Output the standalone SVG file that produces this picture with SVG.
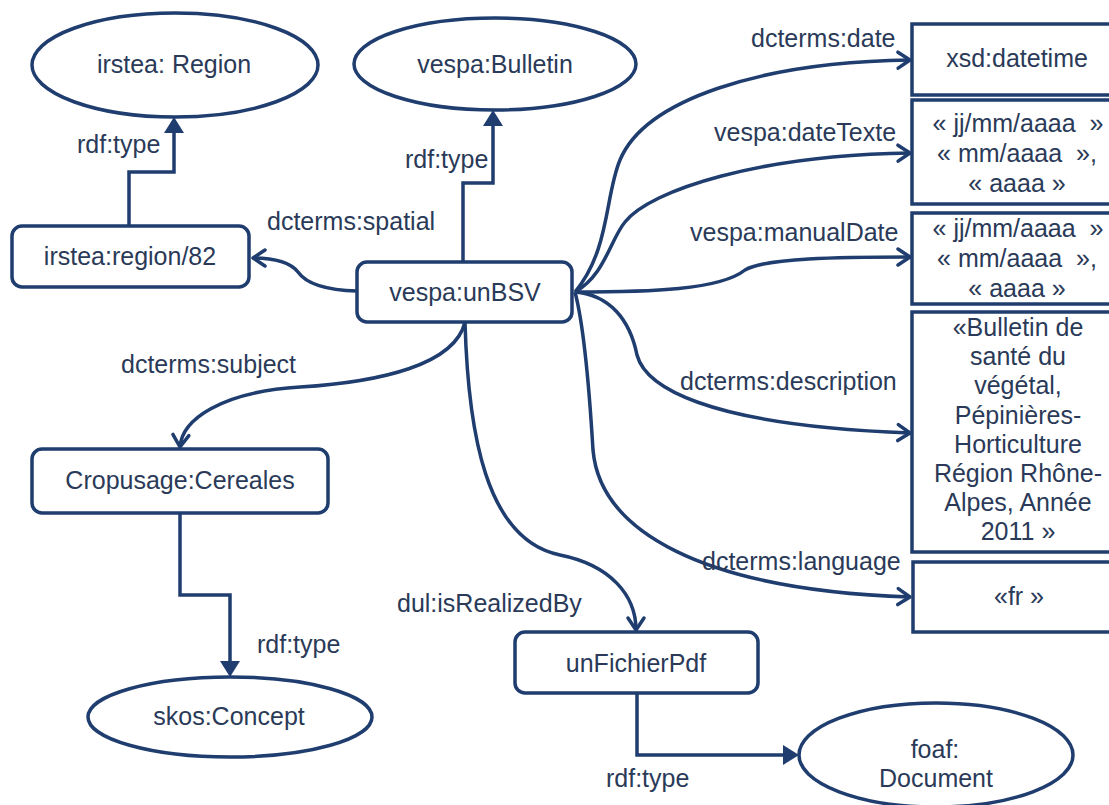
<svg xmlns="http://www.w3.org/2000/svg" width="1109" height="805" viewBox="0 0 1109 805">
<style>
  .node { fill: #ffffff; stroke: #1f3d6e; stroke-width: 3.5; }
  .edge { fill: none; stroke: #1f3d6e; stroke-width: 3.5; }
  text { font-family: "Liberation Sans", Arial, sans-serif; font-size: 25px; fill: #2a3a58; }
  .c { text-anchor: middle; }
  .pre { white-space: pre; }
</style>
<defs>
  <marker id="tri" markerUnits="userSpaceOnUse" markerWidth="20" markerHeight="22" refX="0" refY="0" orient="auto" overflow="visible">
    <path d="M-8,-10 L8,0 L-8,10 z" fill="#1f3d6e"/>
  </marker>
  <marker id="open" markerUnits="userSpaceOnUse" markerWidth="20" markerHeight="20" refX="0" refY="0" orient="auto" overflow="visible">
    <path d="M-12,-8 L0,0 L-12,8" fill="none" stroke="#1f3d6e" stroke-width="3.5" stroke-linecap="round" stroke-linejoin="round"/>
  </marker>
</defs>
<rect width="1109" height="805" fill="#ffffff"/>

<g id="connectors">
  <path class="edge" d="M129,226 V172 H174 V125" marker-end="url(#tri)"/>
  <path class="edge" d="M463,262 V183 H493 V118" marker-end="url(#tri)"/>
  <path class="edge" d="M180,513 V595 H230 V669" marker-end="url(#tri)"/>
  <path class="edge" d="M637,693 V755 H791" marker-end="url(#tri)"/>
  <path class="edge" d="M357,291 C320,290 305,282 298,272 C290,262 275,258 253,258" marker-end="url(#open)"/>
  <path class="edge" d="M575,292 C610,250 605,195 620,160 C645,100 760,62 910,60" marker-end="url(#open)"/>
  <path class="edge" d="M575,292 C605,275 610,240 625,222 C650,190 760,155 910,153" marker-end="url(#open)"/>
  <path class="edge" d="M575,292 C650,292 720,290 745,270 C765,258 840,257 910,257" marker-end="url(#open)"/>
  <path class="edge" d="M575,292 C610,295 630,320 637,355 C645,385 700,425 910,433" marker-end="url(#open)"/>
  <path class="edge" d="M575,292 C585,330 590,400 593,450 C600,530 700,590 910,597" marker-end="url(#open)"/>
  <path class="edge" d="M465,322 C455,365 380,382 300,387 C220,392 182,420 180,447" marker-end="url(#open)"/>
  <path class="edge" d="M465,322 C468,430 485,540 560,555 C610,565 636,595 636,630" marker-end="url(#open)"/>
  <text x="77" y="153">rdf:type</text>
  <text x="405" y="168">rdf:type</text>
  <text x="267" y="230">dcterms:spatial</text>
  <text x="751" y="47">dcterms:date</text>
  <text x="714" y="141">vespa:dateTexte</text>
  <text x="690" y="241">vespa:manualDate</text>
  <text x="680" y="390">dcterms:description</text>
  <text x="702" y="570">dcterms:language</text>
  <text x="121" y="373">dcterms:subject</text>
  <text x="257" y="653">rdf:type</text>
  <text x="397" y="612">dul:isRealizedBy</text>
  <text x="606" y="787">rdf:type</text>
</g>

<g id="irstea-Region">
  <ellipse class="node" cx="175" cy="65" rx="143" ry="52"/>
  <text class="c" x="174" y="73">irstea: Region</text>
</g>
<g id="vespa-Bulletin">
  <ellipse class="node" cx="495" cy="64" rx="141" ry="46"/>
  <text class="c" x="495" y="73">vespa:Bulletin</text>
</g>
<g id="irstea-region-82">
  <rect class="node" x="12" y="226" width="237" height="61" rx="10"/>
  <text class="c" x="130" y="265">irstea:region/82</text>
</g>
<g id="vespa-unBSV">
  <rect class="node" x="357" y="262" width="215" height="60" rx="10"/>
  <text class="c" x="465" y="301">vespa:unBSV</text>
</g>
<g id="xsd-datetime">
  <rect class="node" x="912" y="24" width="210" height="71"/>
  <text class="c" x="1017" y="67">xsd:datetime</text>
</g>
<g id="dateTexte-value">
  <rect class="node" x="912" y="100" width="210" height="104"/>
  <text class="c pre" x="1018" y="132">« jj/mm/aaaa  »</text>
  <text class="c pre" x="1017" y="162">« mm/aaaa  »,</text>
  <text class="c" x="1017" y="192">« aaaa »</text>
</g>
<g id="manualDate-value">
  <rect class="node" x="912" y="213" width="210" height="91"/>
  <text class="c pre" x="1018" y="237">« jj/mm/aaaa  »</text>
  <text class="c pre" x="1017" y="267">« mm/aaaa  »,</text>
  <text class="c" x="1017" y="297">« aaaa »</text>
</g>
<g id="description-value">
  <rect class="node" x="912" y="312" width="210" height="240"/>
  <text class="c" x="1018" y="336">«Bulletin de</text>
  <text class="c" x="1018" y="365">santé du</text>
  <text class="c" x="1018" y="394">végétal,</text>
  <text class="c" x="1018" y="424">Pépinières-</text>
  <text class="c" x="1018" y="453">Horticulture</text>
  <text class="c" x="1018" y="482">Région Rhône-</text>
  <text class="c" x="1018" y="511">Alpes, Année</text>
  <text class="c" x="1018" y="540">2011 »</text>
</g>
<g id="language-value">
  <rect class="node" x="913" y="562" width="210" height="70"/>
  <text class="c" x="1019" y="605">«fr »</text>
</g>
<g id="Cropusage-Cereales">
  <rect class="node" x="32" y="449" width="296" height="64" rx="10"/>
  <text class="c" x="180" y="489">Cropusage:Cereales</text>
</g>
<g id="skos-Concept">
  <ellipse class="node" cx="230" cy="717" rx="142" ry="40"/>
  <text class="c" x="229" y="725">skos:Concept</text>
</g>
<g id="unFichierPdf">
  <rect class="node" x="515" y="632" width="243" height="61" rx="10"/>
  <text class="c" x="636" y="672">unFichierPdf</text>
</g>
<g id="foaf-Document">
  <ellipse class="node" cx="936" cy="755" rx="137" ry="52"/>
  <text class="c" x="935" y="758">foaf:</text>
  <text class="c" x="936" y="787">Document</text>
</g>
</svg>
